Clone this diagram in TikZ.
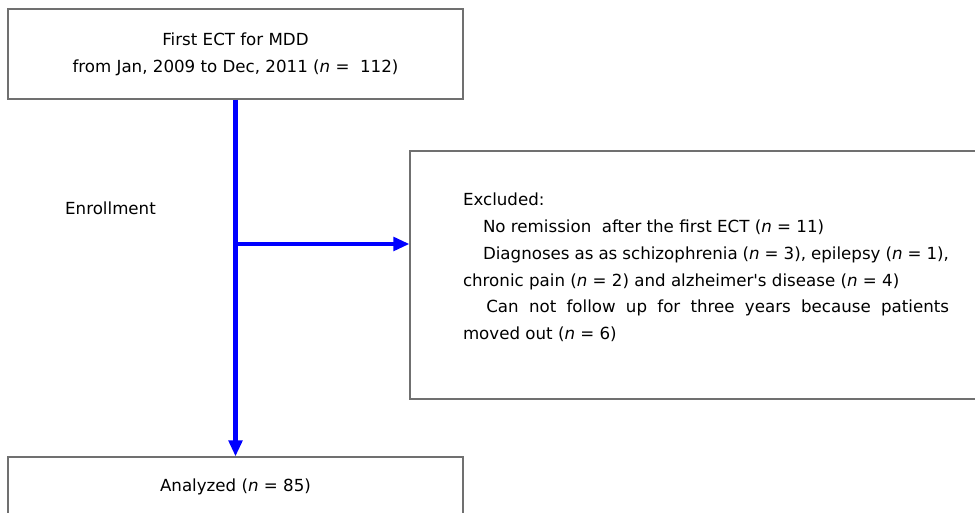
\documentclass[tikz,border=0pt]{standalone}
\usepackage{fontspec}
\setmainfont{DejaVu Sans}
\usetikzlibrary{arrows.meta}
\definecolor{boxgray}{RGB}{112,112,112}
\tikzset{
    flowbox/.style={draw=boxgray, line width=0.8pt, fill=white},
    flowarrow/.style={blue, line width=3.2pt, -{Triangle[length=12pt,width=10pt]}}
}
\begin{document}
\begin{tikzpicture}[x=0.75pt,y=-0.75pt]
        \useasboundingbox (0,0) rectangle (975,513);
        \clip (0,0) rectangle (975,513);
        \node[flowbox, minimum width=341.25pt, minimum height=67.5pt, align=center, font=\fontsize{12.5}{20.25}\selectfont] (first) at (235.5,54) {First ECT for MDD\\from Jan, 2009 to Dec, 2011 (\textit{n} =~~112)};
        \node[flowbox, minimum width=341.25pt, minimum height=45pt, font=\fontsize{12.5}{14}\selectfont] (analyzed) at (235.5,487) {Analyzed (\textit{n} = 85)};
        \node[flowbox, minimum width=444pt, minimum height=186pt, inner xsep=39.75pt, text width=364.5pt, align=justify, font=\fontsize{12.5}{20.1}\selectfont] (excluded) at (706,275) {Excluded:\\
                \hspace*{1.2em}No remission~~after the first ECT (\textit{n} = 11)\\
                \hspace*{1.2em}Diagnoses as as schizophrenia (\textit{n} = 3), epilepsy (\textit{n} = 1),\\
                chronic pain (\textit{n} = 2) and alzheimer\textquotesingle s disease (\textit{n} = 4)\\
                \hspace*{1.4em}Can not follow up for three years because patients\linebreak
                moved out (\textit{n} = 6)\rule[-13pt]{0pt}{13pt}};
        \node[font=\fontsize{12.5}{14}\selectfont] (enroll) at (110.5,208) {Enrollment};
        \coordinate (branch) at (first.south |- 0,244);
        \draw[flowarrow] (first.south) -- (analyzed.north);
        \draw[flowarrow] (branch) -- (branch -| excluded.west);
\end{tikzpicture}
\end{document}
